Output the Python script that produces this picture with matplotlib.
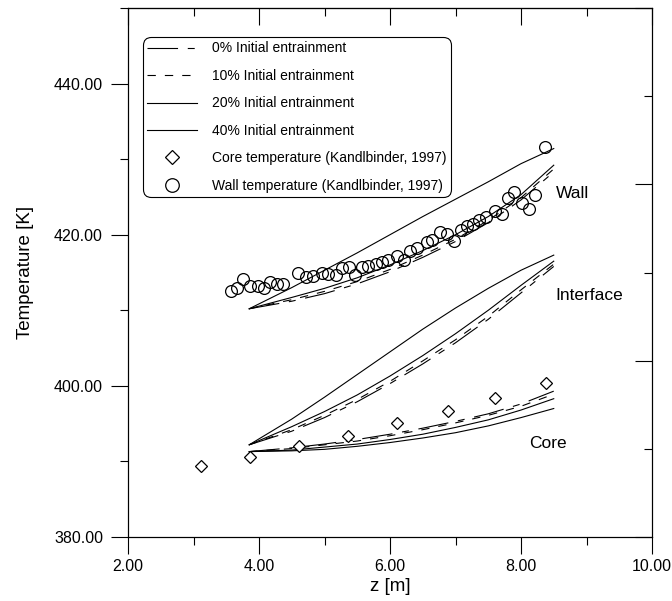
import matplotlib
matplotlib.use("Agg")
import matplotlib.pyplot as plt
from matplotlib.ticker import FormatStrFormatter, MultipleLocator

plt.rcParams['font.family'] = ['Liberation Sans', 'DejaVu Sans']
plt.rcParams['lines.scale_dashes'] = False

# ---------------- data ----------------
z_model = [3.85, 4.5, 5.0, 5.5, 6.0, 6.5, 7.0, 7.5, 8.0, 8.5]

wall_0 = [410.2, 411.2, 412.2, 413.5, 415.1, 417.0, 419.1, 421.6, 424.6, 428.3]
wall_10 = [410.2, 411.4, 412.5, 413.8, 415.4, 417.3, 419.4, 421.9, 424.9, 428.7]
wall_20 = [410.2, 411.7, 412.9, 414.3, 416.0, 417.9, 420.0, 422.4, 425.3, 429.2]
wall_40 = [410.2, 413.0, 415.3, 417.6, 420.0, 422.4, 424.7, 427.0, 429.4, 431.4]

intf_0 = [392.2, 394.0, 395.8, 397.9, 400.3, 402.9, 405.7, 408.8, 412.3, 415.8]
intf_10 = [392.2, 394.2, 396.1, 398.2, 400.6, 403.3, 406.1, 409.2, 412.7, 416.1]
intf_20 = [392.2, 394.6, 396.6, 398.8, 401.3, 404.0, 406.9, 410.0, 413.3, 416.5]
intf_40 = [392.2, 395.6, 398.5, 401.5, 404.5, 407.5, 410.3, 412.9, 415.3, 417.3]

core_0 = [391.3, 391.8, 392.3, 392.9, 393.6, 394.4, 395.3, 396.3, 397.6, 399.3]
core_10 = [391.3, 391.7, 392.2, 392.7, 393.4, 394.2, 395.1, 396.1, 397.3, 398.9]
core_20 = [391.3, 391.5, 391.9, 392.3, 392.9, 393.6, 394.5, 395.5, 396.8, 398.3]
core_40 = [391.3, 391.4, 391.6, 392.0, 392.5, 393.1, 393.8, 394.7, 395.8, 397.0]

core_z = [3.12, 3.87, 4.61, 5.36, 6.11, 6.88, 7.61, 8.38]
core_T = [389.4, 390.6, 392.0, 393.4, 395.1, 396.7, 398.4, 400.4]

wall_z = [3.58, 3.67, 3.76, 3.86, 3.98, 4.07, 4.17, 4.27, 4.37, 4.60, 4.72, 4.82,
          4.96, 5.06, 5.17, 5.27, 5.37, 5.47, 5.57, 5.67, 5.78, 5.88, 5.97, 6.11,
          6.21, 6.31, 6.41, 6.56, 6.64, 6.76, 6.87, 6.97, 7.08, 7.17, 7.27, 7.36,
          7.46, 7.61, 7.71, 7.80, 7.89, 8.02, 8.12, 8.21, 8.37]
wall_T = [412.5, 413.0, 414.2, 413.2, 413.2, 413.0, 413.8, 413.5, 413.5, 415.0, 414.4, 414.6,
          415.0, 414.8, 414.7, 415.6, 415.7, 414.7, 415.7, 415.9, 416.1, 416.4, 416.7, 417.2,
          416.7, 417.8, 418.3, 419.1, 419.3, 420.4, 420.1, 419.2, 420.6, 421.1, 421.4, 421.9,
          422.3, 423.2, 422.8, 424.8, 425.7, 424.2, 423.4, 425.3, 431.6]

labels = ['0% Initial entrainment', '10% Initial entrainment',
          '20% Initial entrainment', '40% Initial entrainment',
          'Core temperature (Kandlbinder, 1997)', 'Wall temperature (Kandlbinder, 1997)']
region_names = ['Wall', 'Interface', 'Core']

# ---------------- figure ----------------
fig = plt.figure(figsize=(6.72, 6.01), dpi=100)
ax = fig.add_axes([128/672, 1-537/601, (652-128)/672, (537-8)/601])

lw = 0.8
sty0 = dict(color='black', lw=lw, linestyle=(0, (22, 7, 5, 7)))
sty10 = dict(color='black', lw=lw, linestyle=(0, (6, 6.5)))
sty20 = dict(color='black', lw=lw, linestyle='-')
sty40 = dict(color='black', lw=lw, linestyle='-')

h0, = ax.plot(z_model, wall_0, **sty0)
h10, = ax.plot(z_model, wall_10, **sty10)
h20, = ax.plot(z_model, wall_20, **sty20)
h40, = ax.plot(z_model, wall_40, **sty40)
ax.plot(z_model, intf_0, **sty0)
ax.plot(z_model, intf_10, **sty10)
ax.plot(z_model, intf_20, **sty20)
ax.plot(z_model, intf_40, **sty40)
ax.plot(z_model, core_0, **sty0)
ax.plot(z_model, core_10, **sty10)
ax.plot(z_model, core_20, **sty20)
ax.plot(z_model, core_40, **sty40)

hc, = ax.plot(core_z, core_T, linestyle='none', marker='D', ms=6,
              mfc='white', mec='black', mew=0.9)
hw, = ax.plot(wall_z, wall_T, linestyle='none', marker='o', ms=8.5,
              mfc='none', mec='black', mew=0.9)

ax.text(8.53, 425.5, region_names[0], fontsize=12.5, va='center', ha='left')
ax.text(8.53, 412.0, region_names[1], fontsize=12.5, va='center', ha='left')
ax.text(8.13, 392.4, region_names[2], fontsize=12.5, va='center', ha='left')

ax.set_xlim(2, 10)
ax.set_ylim(380, 450)
ax.xaxis.set_major_locator(MultipleLocator(2))
ax.xaxis.set_minor_locator(MultipleLocator(1))
ax.yaxis.set_major_locator(MultipleLocator(20))
ax.yaxis.set_minor_locator(MultipleLocator(10))
ax.xaxis.set_major_formatter(FormatStrFormatter('%.2f'))
ax.yaxis.set_major_formatter(FormatStrFormatter('%.2f'))
ax.tick_params(which='major', direction='out', length=12, width=0.8,
               labelsize=11.5, top=False, right=False)
ax.tick_params(which='minor', direction='out', length=6, width=0.8,
               top=False, right=False)
ax.tick_params(axis='y', which='major', pad=6)
ax.tick_params(axis='x', which='major', pad=4)
for s in ax.spines.values():
    s.set_linewidth(0.8)

ax.set_xlabel('z [m]', fontsize=13.5, labelpad=3)
ax.set_ylabel('Temperature [K]', fontsize=13.5, labelpad=14)

# top inward ticks (same scale as bottom)
axt = ax.secondary_xaxis('top')
axt.xaxis.set_major_locator(MultipleLocator(2))
axt.xaxis.set_minor_locator(MultipleLocator(1))
axt.tick_params(which='major', direction='in', length=12, width=0.8, labeltop=False)
axt.tick_params(which='minor', direction='in', length=6, width=0.8)

# right inward ticks on a separate 6-part scale
axr = ax.twinx()
axr.set_ylim(0, 6)
axr.yaxis.set_major_locator(MultipleLocator(2))
axr.yaxis.set_minor_locator(MultipleLocator(1))
axr.tick_params(which='major', direction='in', length=12, width=0.8, labelright=False)
axr.tick_params(which='minor', direction='in', length=6, width=0.8)
for s in axr.spines.values():
    s.set_linewidth(0.8)

leg = ax.legend([h0, h10, h20, h40, hc, hw], labels,
                loc='upper left', bbox_to_anchor=(143/672, 1-37/601),
                bbox_transform=fig.transFigure, fontsize=10,
                handlelength=3.6, handletextpad=1.05, labelspacing=0.97,
                borderpad=0.32, borderaxespad=0, fancybox=True,
                markerscale=1.15,
                frameon=True, framealpha=1, edgecolor='black')
leg.get_frame().set_linewidth(0.8)
leg.get_frame().set_boxstyle('round', pad=0.0, rounding_size=0.6)

fig.savefig('out.png', dpi=100)
